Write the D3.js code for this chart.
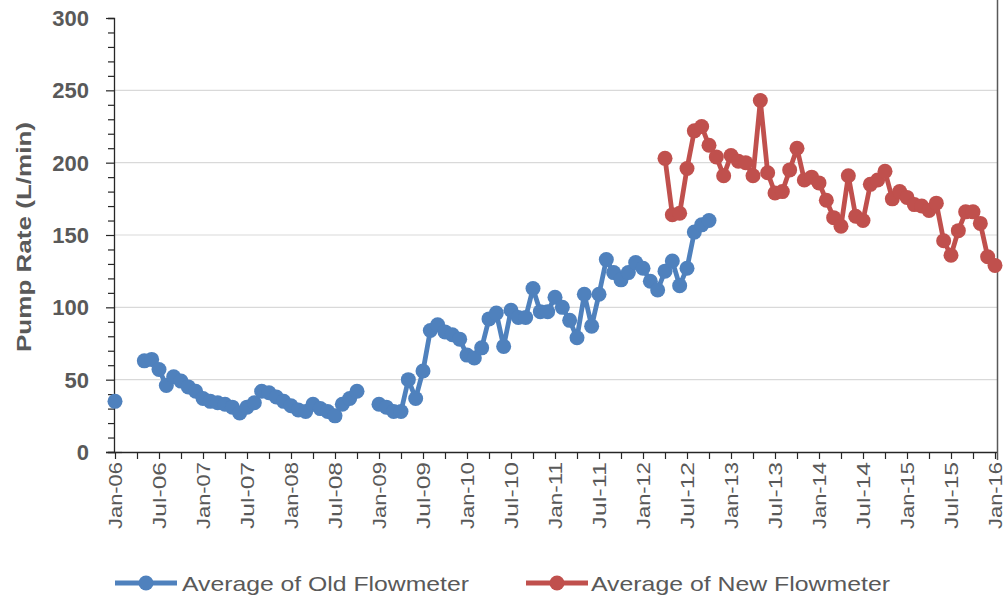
<!DOCTYPE html>
<html>
<head>
<meta charset="utf-8">
<script src="https://cdn.jsdelivr.net/npm/d3@7"></script>
<style>
    body { margin: 0; background: #fff; }
    svg { display: block; }
    text { font-family: "Liberation Sans", Arial, sans-serif; fill: #595959; }
</style>
</head>
<body>
<div id="chart"></div>
<script>
// month 0 = Jan-06, one value per month, null = no reading
var oldStart = 0;
var oldFlow = [35, null, null, null, 63, 64, 57, 46, 52, 49, 45, 42,
    37, 35, 34, 33, 31, 27, 31, 34, 42, 41, 38, 35,
    32, 29, 28, 33, 30, 28, 25, 33, 37, 42, null, null,
    33, 31, 28, 28, 50, 37, 56, 84, 88, 83, 81, 78,
    67, 65, 72, 92, 96, 73, 98, 93, 93, 113, 97, 97,
    107, 100, 91, 79, 109, 87, 109, 133, 124, 119, 124, 131,
    127, 118, 112, 125, 132, 115, 127, 152, 157, 160];

var newStart = 75;
var newFlow = [203, 164, 165, 196, 222, 225, 212, 204, 191, 205,
    201, 200, 191, 243, 193, 179, 180, 195, 210, 188,
    190, 186, 174, 162, 156, 191, 163, 160, 185, 188,
    194, 175, 180, 176, 171, 170, 167, 172, 146, 136,
    153, 166, 166, 158, 135, 129];

var monthLabels = ["Jan-06", "Jul-06", "Jan-07", "Jul-07", "Jan-08", "Jul-08", "Jan-09", "Jul-09",
    "Jan-10", "Jul-10", "Jan-11", "Jul-11", "Jan-12", "Jul-12", "Jan-13", "Jul-13",
    "Jan-14", "Jul-14", "Jan-15", "Jul-15", "Jan-16"];

var seriesNames = ["Average of Old Flowmeter", "Average of New Flowmeter"];
var colors = ["#4F81BD", "#C0504D"];

var svg = d3.select("#chart").append("svg").attr("width", 1007).attr("height", 599);

var margin = { top: 18, left: 114, bottom: 452, right: 995 };

var x = d3.scaleLinear().domain([0, 120]).range([margin.left + 1, margin.right]);
var y = d3.scaleLinear().domain([0, 300]).range([margin.bottom, margin.top]);

function toPoints(values, start) {
    return values.map(function (v, i) { return { m: start + i, v: v }; });
}
var series = [toPoints(oldFlow, oldStart), toPoints(newFlow, newStart)];

// gridlines
svg.append("g")
    .selectAll("line")
    .data([50, 100, 150, 200, 250])
    .enter().append("line")
    .attr("x1", margin.left).attr("x2", margin.right + 2)
    .attr("y1", function (d) { return y(d); })
    .attr("y2", function (d) { return y(d); })
    .attr("stroke", "#d9d9d9").attr("stroke-width", 1.2);

// y axis with minor ticks every 10
var yAxis = svg.append("g")
    .attr("transform", "translate(" + margin.left + ",0)")
    .call(d3.axisLeft(y).tickValues(d3.range(0, 301, 10)).tickSize(6).tickFormat(""));
yAxis.select(".domain").attr("stroke", "#262626").attr("stroke-width", 1.3);
yAxis.selectAll(".tick line").attr("stroke", "#262626").attr("stroke-width", 1.2)
    .attr("x1", function (d) { return d === 0 ? 8 : 0; })
    .attr("x2", function (d) { return d % 50 === 0 ? -8 : -6; });

svg.append("g")
    .selectAll("text")
    .data(d3.range(0, 301, 50))
    .enter().append("text")
    .attr("x", 89)
    .attr("y", function (d) { return y(d) + 8; })
    .attr("text-anchor", "end")
    .style("font-size", "22px")
    .style("font-weight", "bold")
    .text(function (d) { return d; });

// x axis, ticks every 3 months, labels every 6
var xAxis = svg.append("g")
    .attr("transform", "translate(0," + margin.bottom + ")")
    .call(d3.axisBottom(x).tickValues(d3.range(0, 121, 3)).tickSize(7).tickSizeOuter(0).tickFormat(""));
xAxis.select(".domain").attr("stroke", "#262626").attr("stroke-width", 1.3)
    .attr("d", "M" + (margin.left - 8) + ",0.5H" + (margin.right + 3));
xAxis.selectAll(".tick line").attr("stroke", "#262626").attr("stroke-width", 1.2);

svg.append("g")
    .selectAll("text")
    .data(monthLabels)
    .enter().append("text")
    .attr("transform", function (d, i) { return "translate(" + (x(i * 6) + 6.5) + "," + (margin.bottom + 10) + ") rotate(-90)"; })
    .attr("text-anchor", "end")
    .attr("textLength", 67)
    .attr("lengthAdjust", "spacingAndGlyphs")
    .style("font-size", "18px")
    .text(function (d) { return d; });

// right border
svg.append("line")
    .attr("x1", 997.5).attr("x2", 997.5).attr("y1", 0).attr("y2", 460)
    .attr("stroke", "#595959").attr("stroke-width", 1.5);

// y title
svg.append("text")
    .attr("transform", "translate(31,237) rotate(-90)")
    .attr("text-anchor", "middle")
    .attr("textLength", 230)
    .attr("lengthAdjust", "spacingAndGlyphs")
    .style("font-size", "20px")
    .style("font-weight", "bold")
    .text("Pump Rate (L/min)");

// series
var line = d3.line()
    .defined(function (d) { return d.v !== null; })
    .x(function (d) { return x(d.m); })
    .y(function (d) { return y(d.v); });

series.forEach(function (pts, k) {
    var g = svg.append("g");
    g.append("path")
        .datum(pts)
        .attr("fill", "none")
        .attr("stroke", colors[k])
        .attr("stroke-width", 4.8)
        .attr("stroke-linejoin", "round")
        .attr("d", line);
    g.selectAll("circle")
        .data(pts.filter(function (d) { return d.v !== null; }))
        .enter().append("circle")
        .attr("cx", function (d) { return x(d.m); })
        .attr("cy", function (d) { return y(d.v); })
        .attr("r", 7.5)
        .attr("fill", colors[k]);
});

// legend
var legendItems = [
    { x0: 115, x1: 177, tx: 182, len: 287 },
    { x0: 526, x1: 588, tx: 591, len: 299 }
];
var legend = svg.append("g");
legendItems.forEach(function (it, k) {
    legend.append("line")
        .attr("x1", it.x0).attr("x2", it.x1).attr("y1", 583).attr("y2", 583)
        .attr("stroke", colors[k]).attr("stroke-width", 4.8);
    legend.append("circle")
        .attr("cx", (it.x0 + it.x1) / 2).attr("cy", 583).attr("r", 7.5)
        .attr("fill", colors[k]);
    legend.append("text")
        .attr("x", it.tx).attr("y", 591)
        .attr("textLength", it.len)
        .attr("lengthAdjust", "spacingAndGlyphs")
        .style("font-size", "21px")
        .text(seriesNames[k]);
});
</script>
</body>
</html>
